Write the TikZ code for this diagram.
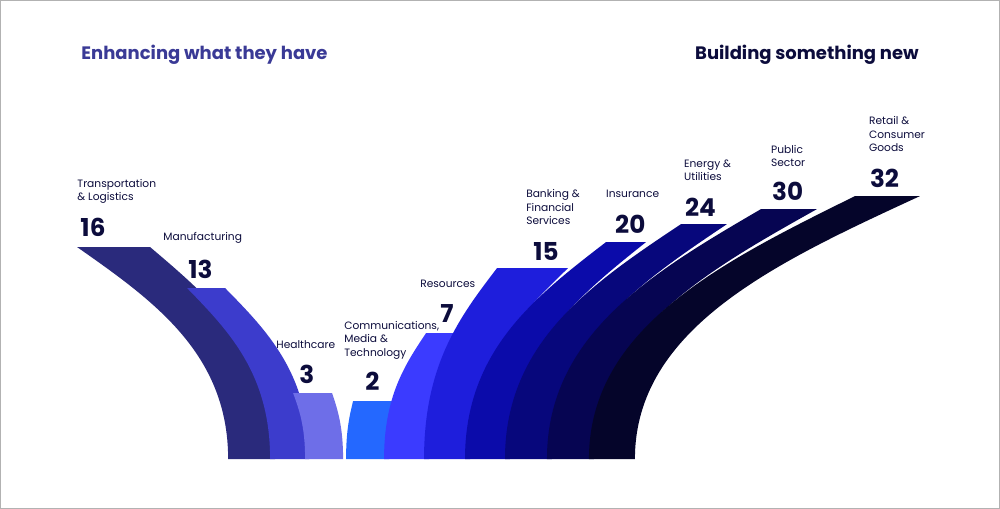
\documentclass[tikz,border=0pt]{standalone}
\usepackage{fontspec}
\setmainfont{Poppins}
\definecolor{cTrans}{HTML}{2A2A7C}
\definecolor{cManu}{HTML}{3C3CCC}
\definecolor{cHealth}{HTML}{6E6EE8}
\definecolor{cComm}{HTML}{2468FF}
\definecolor{cRes}{HTML}{3B3BFF}
\definecolor{cBank}{HTML}{1E1EDC}
\definecolor{cIns}{HTML}{0B0BAA}
\definecolor{cEner}{HTML}{07077C}
\definecolor{cPub}{HTML}{060552}
\definecolor{cRetail}{HTML}{05052A}
\definecolor{titleL}{HTML}{3A3A96}
\definecolor{titleR}{HTML}{0C0C3C}
\tikzset{
  sector/.style={font=\fontsize{8}{10}\selectfont, align=left, anchor=west, inner sep=0pt, text=titleR},
  count/.style={font=\fontsize{18.5}{20}\bfseries\selectfont, anchor=west, inner sep=0pt, text=titleR},
  heading/.style={font=\fontsize{13.5}{15}\bfseries\selectfont, anchor=west, inner sep=0pt}
}
\begin{document}
\begin{tikzpicture}[x=0.75pt, y=-0.75pt]
\draw[gray!60, fill=white] (0,0) rectangle (1000,508);
% left bands, falling
\foreach \a/\b/\t/\xl/\xr/\c in {77/150/247/228/275/cTrans, 187/225/288/270/309/cManu, 293/332/393/305/343/cHealth}{
  \pgfmathsetmacro\h{459-\t}
  \fill[\c] (\a,\t) -- (\b,\t) .. controls ({\b+0.5*(\xr-\b)},{\t+0.25*\h}) and (\xr,{459-0.5*\h}) .. (\xr,459)
    -- (\xl,459) .. controls (\xl,{459-0.5*\h}) and ({\a+0.5*(\xl-\a)},{\t+0.25*\h}) .. cycle;
}
% right bands, rising
\foreach \xl/\a/\t/\b/\xr/\c in {346/353/401/392/389/cComm, 384/426/333/465/429/cRes, 424/497/268/568/470/cBank, 465/606/242/646/510/cIns, 505/681/224/727/552/cEner, 547/761/209/817/594/cPub, 589/855/196/920/635/cRetail}{
  \pgfmathsetmacro\h{459-\t}
  \fill[\c] (\xl,459) .. controls (\xl,{459-0.5*\h}) and ({\a-0.5*(\a-\xl)},{\t+0.25*\h}) .. (\a,\t) -- (\b,\t)
    .. controls ({\b-0.5*(\b-\xr)},{\t+0.25*\h}) and (\xr,{459-0.5*\h}) .. (\xr,459) -- cycle;
}
\node[heading, text=titleL] (hL) at (81,55) {Enhancing what they have};
\node[heading, text=titleR] (hR) at (695,55) {Building something new};
\node[sector] (lTrans) at (77,191) {Transportation\\\& Logistics};
\node[count] (nTrans) at (80,227) {16};
\node[sector] (lManu) at (163,238) {Manufacturing};
\node[count] (nManu) at (188,269) {13};
\node[sector] (lHealth) at (276,345) {Healthcare};
\node[count] (nHealth) at (299,374) {3};
\node[sector] (lComm) at (344,340) {Communications,\\Media \&\\Technology};
\node[count] (nComm) at (365,381) {2};
\node[sector] (lRes) at (420,284) {Resources};
\node[count] (nRes) at (440,313) {7};
\node[sector] (lBank) at (526,207) {Banking \&\\Financial\\Services};
\node[count] (nBank) at (533,251) {15};
\node[sector] (lIns) at (606,194) {Insurance};
\node[count] (nIns) at (615,224) {20};
\node[sector] (lEner) at (684,170) {Energy \&\\Utilities};
\node[count] (nEner) at (685,207) {24};
\node[sector] (lPub) at (771,156) {Public\\Sector};
\node[count] (nPub) at (772,191) {30};
\node[sector] (lRetail) at (869,134) {Retail \&\\Consumer\\Goods};
\node[count] (nRetail) at (870,178) {32};
\end{tikzpicture}
\end{document}
